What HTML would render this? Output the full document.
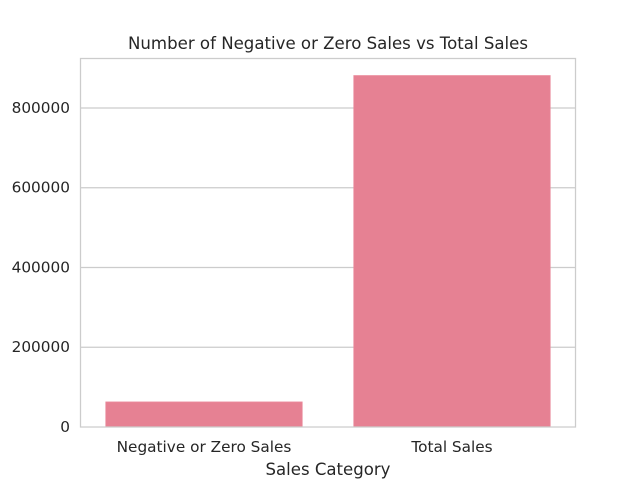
<!DOCTYPE html>
<html><head><meta charset="utf-8"><style>
body{margin:0;background:#fff;}
svg text{font-family:"DejaVu Sans","Liberation Sans",sans-serif;fill:#262626;}
</style></head><body>
<svg id="chart" width="640" height="480" xmlns="http://www.w3.org/2000/svg">
<rect width="640" height="480" fill="#fff"/>
<text x="328" y="49" font-size="16.6" text-anchor="middle" textLength="400" lengthAdjust="spacingAndGlyphs">Number of Negative or Zero Sales vs Total Sales</text>
<g id="grid"></g><g id="bars"></g><g id="yticks"></g><g id="xticks"></g>
<rect x="80.5" y="58.5" width="495" height="368.5" fill="none" stroke="#cccccc" stroke-width="1.25"/>
<text x="328" y="475" font-size="16.5" text-anchor="middle" textLength="125" lengthAdjust="spacingAndGlyphs">Sales Category</text>
</svg>
<script>
const categories=["Negative or Zero Sales","Total Sales"];
const values=[62800,881200];
const yTicks=[0,200000,400000,600000,800000];
const yTickLabels=["0","200000","400000","600000","800000"];
const L=80,R=576,T=58,B=427;
const yMax=Math.max(...values)*1.05;
const y=v=>B-(v/yMax)*(B-T);
const band=(R-L)/categories.length;
const x=i=>L+band*(i+0.5);
const NS="http://www.w3.org/2000/svg";
function mk(tag,attrs,parent){const e=document.createElementNS(NS,tag);for(const k in attrs)e.setAttribute(k,attrs[k]);parent.appendChild(e);return e;}
const grid=document.getElementById('grid'),bars=document.getElementById('bars'),yt=document.getElementById('yticks'),xt=document.getElementById('xticks');
yTicks.forEach((t,i)=>{
 if(t>0){const g=mk('line',{x1:L,x2:R,y1:y(t),y2:y(t),stroke:'#cccccc','stroke-width':1.25},grid);
 
 }
 const tx=mk('text',{x:L-10,y:y(t)+5,'font-size':15.3,'text-anchor':'end'},yt);
 tx.textContent=yTickLabels[i];
 
 
});
categories.forEach((c,i)=>{
 const w=band*0.8;
 const r=mk('rect',{x:x(i)-w/2+1,y:y(values[i]),width:w-2,height:B-y(values[i]),fill:'#e68193',stroke:'#ea8b9c','stroke-width':0.8},bars);
 
 
 const tx=mk('text',{x:x(i),y:452,'font-size':15.3,'text-anchor':'middle'},xt);
 tx.textContent=c;
 
 
});
</script>
</body></html>
